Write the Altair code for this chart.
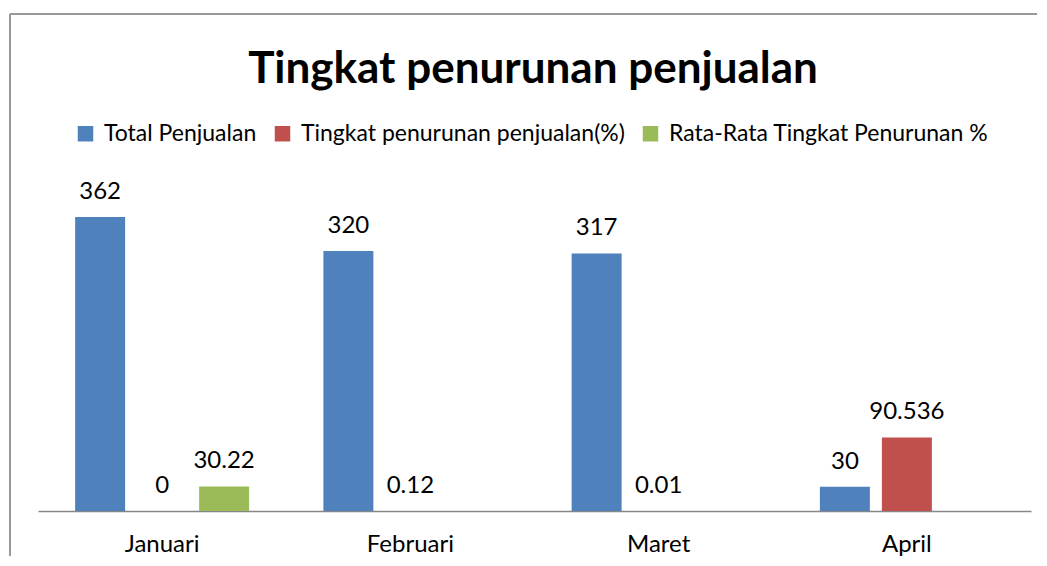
import altair as alt
import pandas as pd

months = ["Januari", "Februari", "Maret", "April"]
series = ["Total Penjualan", "Tingkat penurunan penjualan(%)", "Rata-Rata Tingkat Penurunan %"]
total = [362, 320, 317, 30]
penurunan = [0, 0.12, 0.01, 90.536]
rata = [30.22, None, None, None]
colors = ["#4F81BD", "#C0504D", "#9BBB59"]

rows = []
for i, m in enumerate(months):
    for s, vals in zip(series, [total, penurunan, rata]):
        v = vals[i]
        if v is None:
            continue
        rows.append({"bulan": m, "seri": s, "nilai": v, "label": "{:g}".format(v)})
df = pd.DataFrame(rows)

W, H = 993, 325
FONT = "Lato"
FS = 24

x = alt.X("bulan:N", sort=months, scale=alt.Scale(paddingInner=0, paddingOuter=0),
          axis=alt.Axis(title=None, ticks=False, labelAngle=0, labelFontSize=FS,
                        labelFont=FONT, labelColor="#000000", labelPadding=21,
                        domainColor="#878787", domainWidth=1.5))
xo = alt.XOffset("seri:N", sort=series,
                 scale=alt.Scale(domain=series, paddingInner=0.1935, paddingOuter=0.599))
y = alt.Y("nilai:Q", scale=alt.Scale(domain=[0, 400]), axis=None)

base = alt.Chart(df)
bars = base.mark_bar().encode(
    x=x, xOffset=xo, y=y,
    color=alt.Color("seri:N", sort=series,
                    scale=alt.Scale(domain=series, range=colors),
                    legend=alt.Legend(title=None, orient="none", direction="horizontal",
                                      legendX=36, legendY=-64,
                                      symbolType="square", symbolSize=240,
                                      symbolStrokeWidth=0, labelFontSize=23,
                                      labelFont=FONT, labelColor="#000000",
                                      labelOffset=7, columnPadding=14, labelLimit=500)),
)
labels = base.mark_text(baseline="alphabetic", dy=-18, fontSize=FS, font=FONT,
                        color="#000000").encode(x=x, xOffset=xo, y=y, text="label:N")

one = alt.Chart(pd.DataFrame({"a": [0]}))
title = one.mark_text(text="Tingkat penurunan penjualan", font=FONT, fontSize=44,
                      fontWeight="bold", color="#000000", baseline="middle",
                      align="center").encode(x=alt.value(495), y=alt.value(-116))
top_rule = one.mark_rule(color="#999999", strokeWidth=2).encode(
    x=alt.value(-28), x2=alt.value(999), y=alt.value(-172))
left_rule = one.mark_rule(color="#999999", strokeWidth=2).encode(
    x=alt.value(-28), y=alt.value(-172), y2=alt.value(370))

chart = alt.layer(top_rule, left_rule, bars, labels, title).properties(
    width=W, height=H,
    padding={"left": 1, "top": 5, "right": 0, "bottom": 0},
).configure_view(stroke=None)

chart.save("out.html", embed_options={"renderer": "svg", "actions": False})
